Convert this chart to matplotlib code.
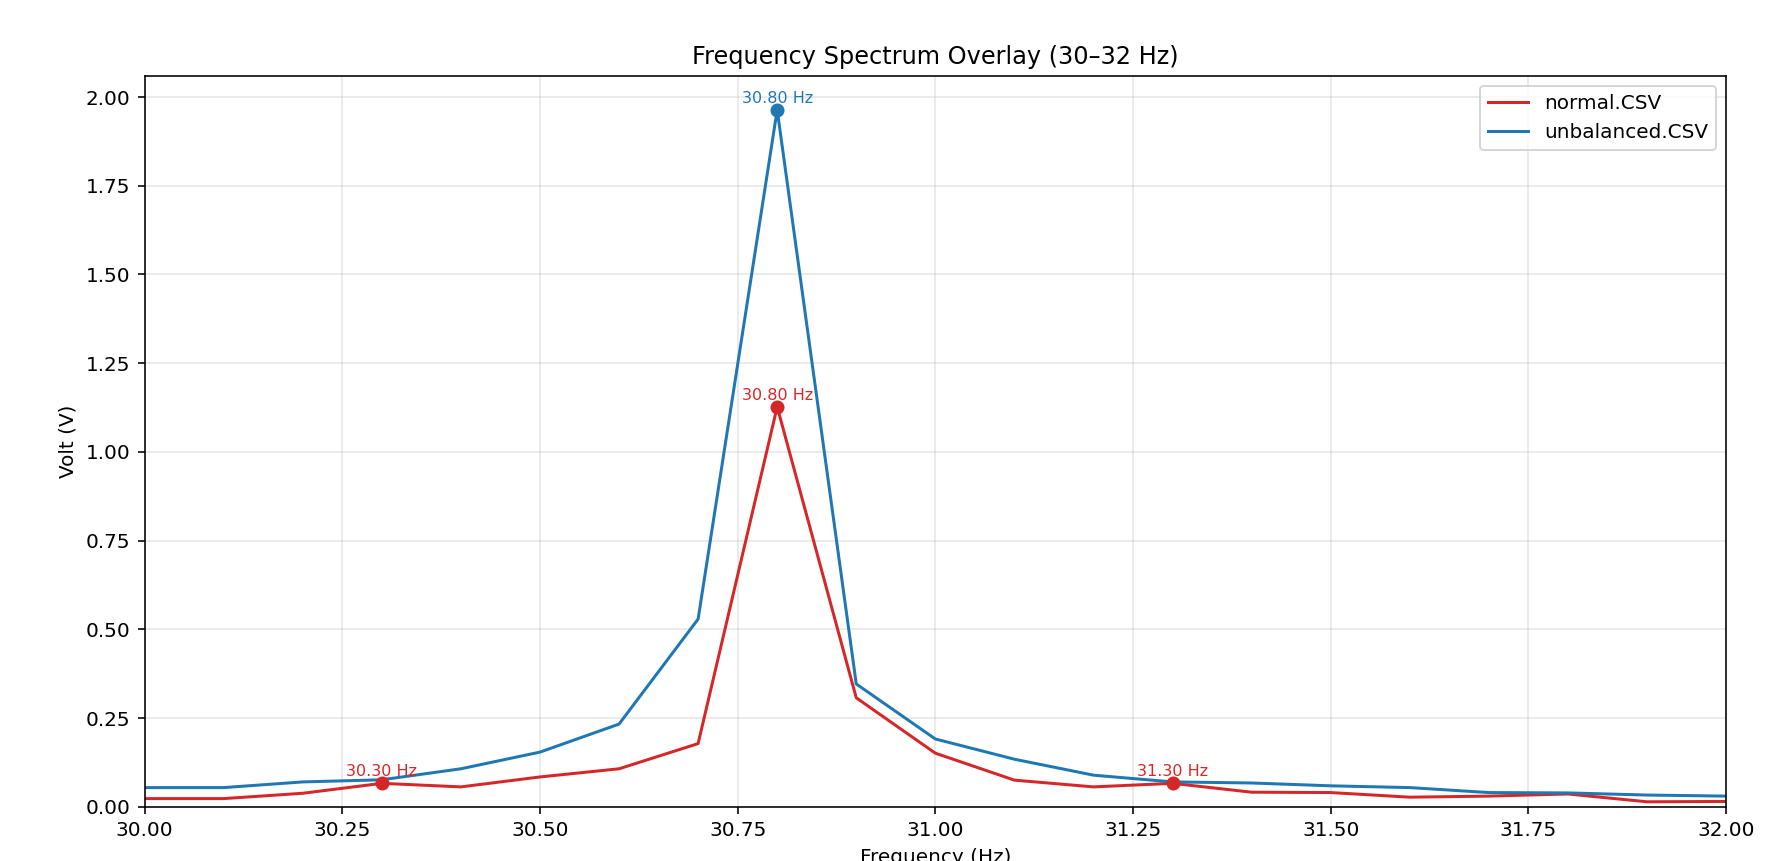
import numpy as np
import matplotlib
matplotlib.use("Agg")
import matplotlib.pyplot as plt

# frequency bins (Hz), 0.1 Hz resolution
freq = [30.0, 30.1, 30.2, 30.3, 30.4, 30.5, 30.6, 30.7, 30.8, 30.9,
        31.0, 31.1, 31.2, 31.3, 31.4, 31.5, 31.6, 31.7, 31.8, 31.9, 32.0]

normal = [0.023, 0.023, 0.038, 0.066, 0.056, 0.084, 0.107, 0.178, 1.127, 0.307,
          0.151, 0.075, 0.056, 0.066, 0.041, 0.040, 0.027, 0.030, 0.036, 0.014, 0.015]

unbalanced = [0.054, 0.054, 0.070, 0.076, 0.107, 0.154, 0.233, 0.529, 1.964, 0.346,
              0.191, 0.134, 0.089, 0.070, 0.067, 0.059, 0.054, 0.040, 0.039, 0.033, 0.030]

# peaks marked on each trace
normal_peaks = [30.3, 30.8, 31.3]
unbalanced_peaks = [30.8]

RED = "#d62728"
BLUE = "#1f77b4"

DPI = 144
fig = plt.figure(figsize=(1785 / DPI, 861 / DPI), dpi=DPI)
ax = fig.add_axes([0.081, 0.063, 0.886, 0.849])

ax.plot(freq, normal, color=RED, lw=1.5, label="normal.CSV")
ax.plot(freq, unbalanced, color=BLUE, lw=1.5, label="unbalanced.CSV")


def mark_peaks(peaks, xs, ys, color):
    for p in peaks:
        i = xs.index(p)
        ax.plot(xs[i], ys[i], "o", color=color, ms=6)
        ax.annotate(f"{xs[i]:.2f} Hz", (xs[i], ys[i]), xytext=(0, 2),
                    textcoords="offset points", ha="center", va="bottom",
                    fontsize=8, color=color)


mark_peaks(normal_peaks, freq, normal, RED)
mark_peaks(unbalanced_peaks, freq, unbalanced, BLUE)

ax.set_xlim(30, 32)
ax.set_ylim(0, 2.06)
ax.set_xticks(np.arange(30, 32.01, 0.25))
ax.set_yticks(np.arange(0, 2.01, 0.25))
ax.xaxis.set_major_formatter(matplotlib.ticker.FormatStrFormatter("%.2f"))
ax.yaxis.set_major_formatter(matplotlib.ticker.FormatStrFormatter("%.2f"))
ax.grid(True, alpha=0.3)
ax.set_title("Frequency Spectrum Overlay (30\u201332 Hz)")
ax.set_xlabel("Frequency (Hz)")
ax.set_ylabel("Volt (V)")
ax.legend(loc="upper right")

fig.savefig("out.png", dpi=DPI)
